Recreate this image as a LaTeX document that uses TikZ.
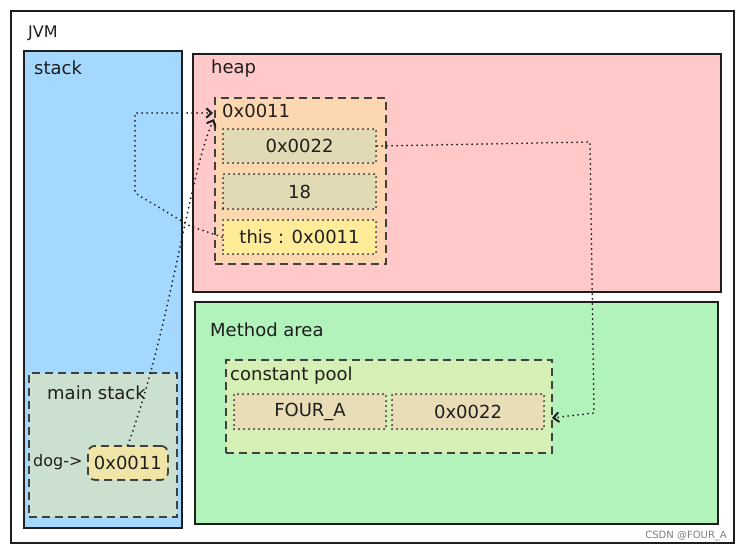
\documentclass[tikz,border=0pt]{standalone}
\usepackage{fontspec}
\setmainfont{DejaVu Sans}
\usetikzlibrary{arrows.meta}
\definecolor{ink}{HTML}{1E1E1E}
\definecolor{stackblue}{HTML}{A5D8FF}
\definecolor{heappink}{HTML}{FFC9C9}
\definecolor{methgreen}{HTML}{B2F2BB}
\definecolor{objpeach}{HTML}{FDD7B0}
\definecolor{fieldgrey}{HTML}{E2DAB4}
\definecolor{thisyellow}{HTML}{FFEC99}
\definecolor{mainstk}{HTML}{CCE0D0}
\definecolor{refyellow}{HTML}{F0E4A6}
\definecolor{poolgreen}{HTML}{D6EFB4}
\definecolor{poolcell}{HTML}{E9DDB8}
\tikzset{
  region/.style={draw=ink, line width=1.8pt, anchor=north west, inner sep=0pt},
  dashbox/.style={draw=ink!85, line width=1.8pt, dash pattern=on 8pt off 5pt, anchor=north west, inner sep=0pt},
  dotbox/.style={draw=ink!90, line width=2.1pt, line cap=round, dash pattern=on 0pt off 5pt, anchor=north west, inner sep=0pt, text=ink, font=\fontsize{18}{20}\selectfont},
  lbl/.style={anchor=west, inner sep=0pt, text=ink, font=\fontsize{18}{20}\selectfont},
  link/.style={draw=ink, line width=2pt, line cap=round, dash pattern=on 0pt off 5pt, -{Straight Barb[length=5pt,width=9pt,line cap=round]}},
}
\begin{document}
\begin{tikzpicture}[x=1pt,y=-1pt]
\useasboundingbox (0,0) rectangle (741,551);
\fill[white] (0,0) rectangle (741,551);
% outer JVM
\node[region, line width=2.2pt, minimum width=723pt, minimum height=532pt] (jvm) at (10,10) {};
\node[lbl, font=\fontsize{16}{18}\selectfont] (jvmlbl) at (28,33) {JVM};
% regions
\node[region, fill=stackblue, minimum width=158pt, minimum height=477pt] (stack) at (23,50) {};
\node[lbl] (stacklbl) at (34,68) {stack};
\node[region, fill=heappink, minimum width=528pt, minimum height=238pt] (heap) at (192,53) {};
\node[lbl] (heaplbl) at (211,69) {heap};
\node[region, fill=methgreen, minimum width=523pt, minimum height=222pt] (meth) at (194,301) {};
\node[lbl] (methlbl) at (210,330) {Method area};
% heap object
\node[dashbox, fill=objpeach, minimum width=171pt, minimum height=166pt] (obj) at (214,97) {};
\node[lbl] (objlbl) at (222,111) {0x0011};
\node[dotbox, fill=fieldgrey, minimum width=153pt, minimum height=34pt] (f1) at (222,128) {0x0022};
\node[dotbox, fill=fieldgrey, minimum width=153pt, minimum height=35pt] (f2) at (222,173) {18};
\node[dotbox, fill=thisyellow, minimum width=153pt, minimum height=34pt] (f3) at (222,219) {this : 0x0011};
% main stack
\node[dashbox, fill=mainstk, minimum width=148pt, minimum height=144pt] (mstk) at (28,372) {};
\node[lbl] (mstklbl) at (47,393) {main stack};
\node[lbl, font=\fontsize{16}{18}\selectfont] (doglbl) at (33,462) {dog->};
\node[dashbox, fill=refyellow, rounded corners=7pt, minimum width=80pt, minimum height=34pt, font=\fontsize{18}{20}\selectfont, text=ink] (dogval) at (87,445) {0x0011};
% constant pool
\node[dashbox, fill=poolgreen, minimum width=326pt, minimum height=93pt] (pool) at (225,359) {};
\node[lbl] (poollbl) at (230,376) {constant pool};
\node[dotbox, fill=poolcell, minimum width=152pt, minimum height=35pt] (c1) at (233,393) {FOUR\_A};
\node[dotbox, fill=poolcell, minimum width=152pt, minimum height=35pt] (c2) at (391,393) {0x0022};
% connector points
\coordinate (objin1) at (213,113);
\coordinate (objin2) at (214,119);
\coordinate (b1) at (190,226);
\coordinate (b2) at (135,193);
\coordinate (b3) at (135,113);
\coordinate (r1) at (590,142);
\coordinate (r2) at (594,413);
\coordinate (poolin) at (552,418);
% connectors
\draw[link] (f3.west) -- (b1) -- (b2) -- (b3) -- (objin1);
\draw[link] (dogval.north) .. controls (170,330) and (190,170) .. (objin2);
\draw[link] (f1.east) -- (r1) -- (r2) -- (poolin);
% watermark
\node[anchor=east, inner sep=0pt, text=gray, font=\fontsize{10}{11}\selectfont] (wm) at (727,536) {CSDN @FOUR\_A};
\end{tikzpicture}
\end{document}
